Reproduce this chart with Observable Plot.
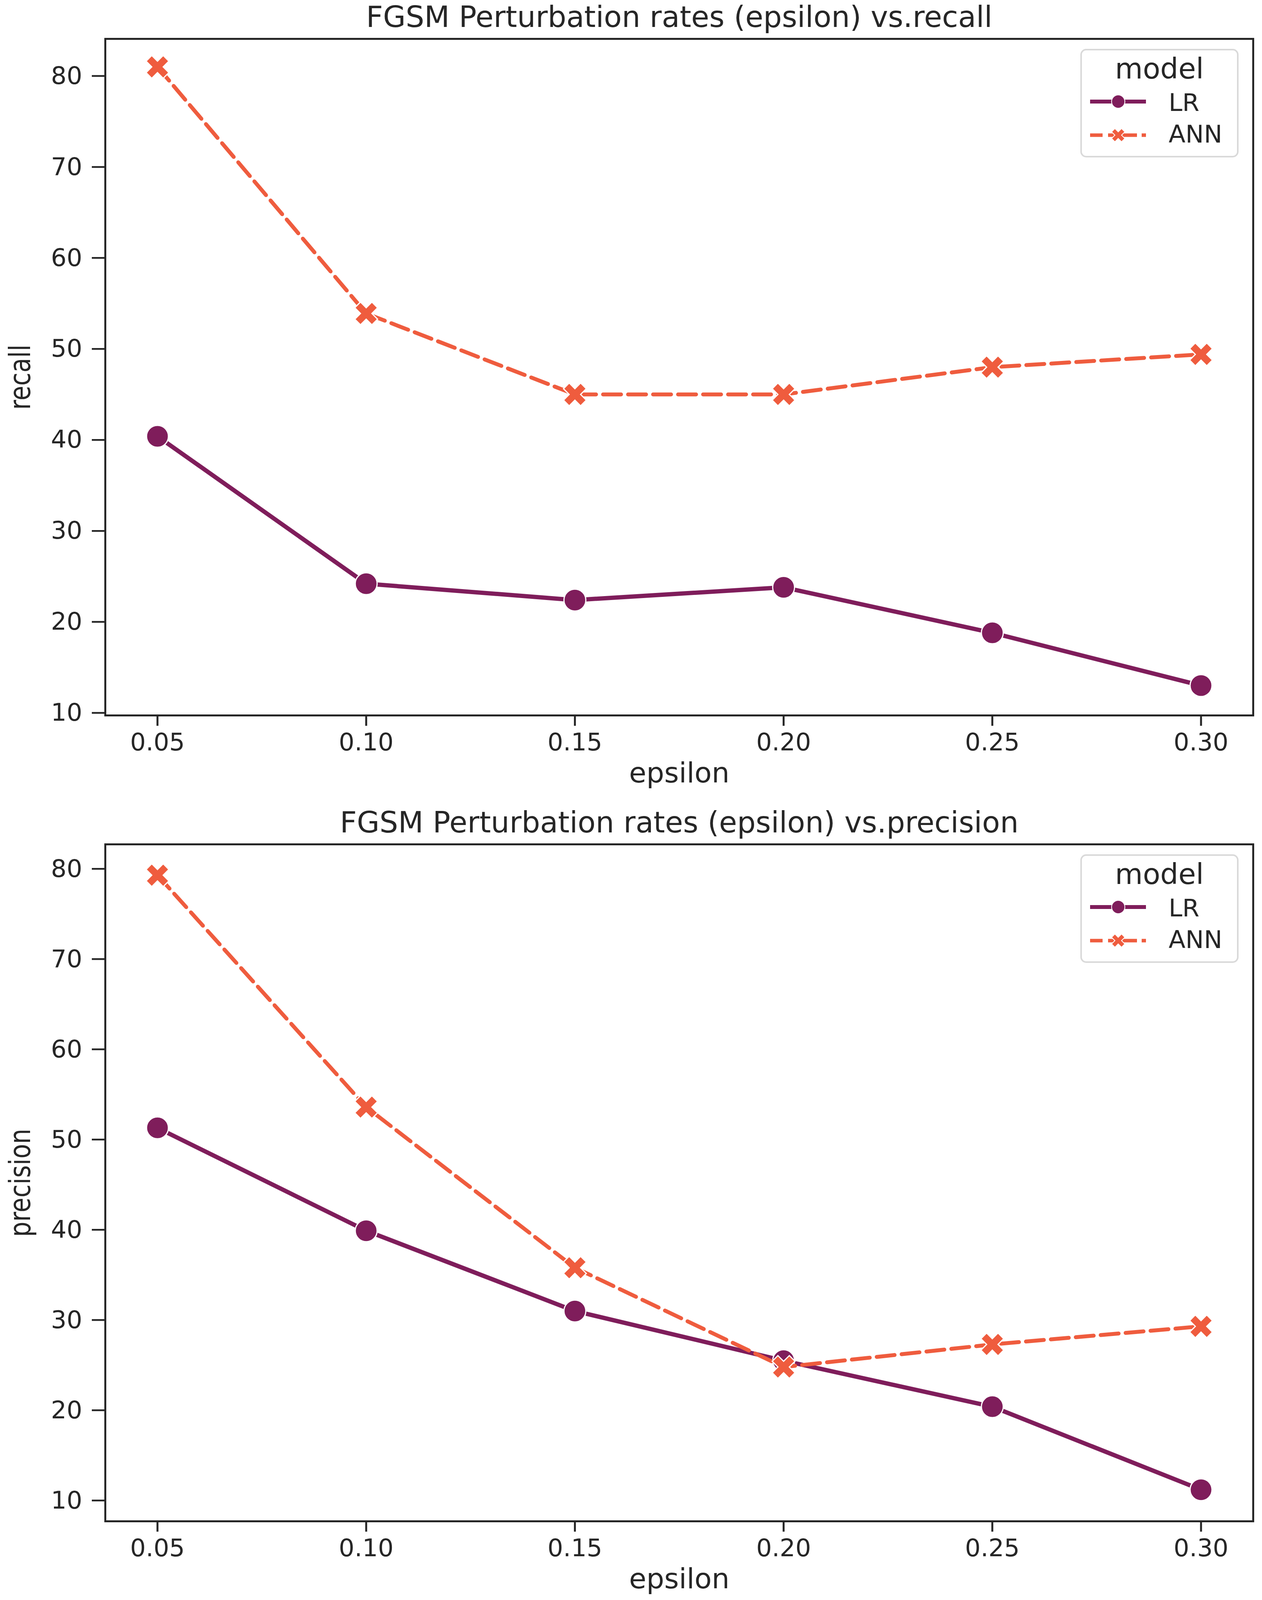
<!DOCTYPE html>
<html><head><meta charset="utf-8">
<script src="https://cdn.jsdelivr.net/npm/d3@7"></script>
<script src="https://cdn.jsdelivr.net/npm/@observablehq/plot@0.6"></script>
<style>
html,body{margin:0;padding:0;background:#fff;overflow:hidden;}
#root{position:relative;width:3230px;height:4096px;}
.chart{position:relative;width:3230px;}
.chart svg{display:block;}
</style></head><body><div id="root"></div>
<script>
// ---- data ----
const epsilon = [0.05, 0.10, 0.15, 0.20, 0.25, 0.30];
const models = ["LR", "ANN"];
const recallLR = [40.4, 24.2, 22.4, 23.8, 18.8, 13.0];
const recallANN = [81.0, 53.9, 45.0, 45.0, 48.0, 49.4];
const precisionLR = [51.3, 39.9, 31.0, 25.5, 20.4, 11.2];
const precisionANN = [79.3, 53.6, 35.8, 24.8, 27.3, 29.3];
const yTicks = [10, 20, 30, 40, 50, 60, 70, 80];
const titles = ["FGSM Perturbation rates (epsilon) vs.recall", "FGSM Perturbation rates (epsilon) vs.precision"];
const yLabels = ["recall", "precision"];
const xLabel = "epsilon";
const legendTitle = "model";
const colors = ["#7f1d5b", "#ef5c3e"];
const ink = "#262626";

// filled "X" marker (matplotlib style)
const filledX = {
  draw(ctx, size) {
    const L = Math.sqrt(size / Math.PI), a = L / 3, k = Math.SQRT1_2;
    const pts = [[-a,-L],[a,-L],[a,-a],[L,-a],[L,a],[a,a],[a,L],[-a,L],[-a,a],[-L,a],[-L,-a],[-a,-a]];
    pts.forEach(([x, y], i) => {
      const X = (x - y) * k, Y = (x + y) * k;
      if (i) ctx.lineTo(X, Y); else ctx.moveTo(X, Y);
    });
    ctx.closePath();
  }
};

// shorten the rotated y label along its length
function squeezeRotated(svg) {
  svg.querySelectorAll("text").forEach(t => {
    const tr = t.getAttribute("transform") || "";
    if (/rotate/.test(tr)) t.setAttribute("transform", tr + " scale(0.83,1)");
  });
}

function makeLegend(top) {
  const svg = d3.create("svg")
    .attr("width", 410).attr("height", 282)
    .style("position", "absolute").style("left", "2765px").style("top", top + "px")
    .style("font-family", "DejaVu Sans");
  svg.append("rect").attr("x", 2).attr("y", 2).attr("width", 401).attr("height", 274).attr("rx", 13)
    .attr("fill", "white").attr("fill-opacity", 0.8).attr("stroke", "#d9d9d9").attr("stroke-width", 4);
  svg.append("text").text(legendTitle).attr("text-anchor", "middle").attr("font-size", 73).attr("fill", ink)
    .attr("x", 202.5).attr("y", 76);
  // LR
  svg.append("line").attr("x1", 25).attr("x2", 168).attr("y1", 135).attr("y2", 135)
    .attr("stroke", colors[0]).attr("stroke-width", 10);
  svg.append("circle").attr("cx", 97).attr("cy", 135).attr("r", 17).attr("fill", colors[0])
    .attr("stroke", "white").attr("stroke-width", 2);
  svg.append("text").text(models[0]).attr("font-size", 63).attr("fill", ink)
    .attr("x", 226).attr("y", 159);
  // ANN
  svg.append("line").attr("x1", 25).attr("x2", 168).attr("y1", 221).attr("y2", 221)
    .attr("stroke", colors[1]).attr("stroke-width", 9).attr("stroke-dasharray", "32,14,74,12,11");
  const p = d3.path(); filledX.draw(p, 18 * 18 * Math.PI);
  svg.append("path").attr("d", p.toString()).attr("transform", "translate(97,221)")
    .attr("fill", colors[1]).attr("stroke", "white").attr("stroke-width", 2);
  svg.append("text").text(models[1]).attr("font-size", 63).attr("fill", ink)
    .attr("x", 226).attr("y", 240);
  return svg.node();
}

function makeChart({title, ylabel, lr, ann, yDomain, height, marginTop, marginBottom}) {
  const lrData = epsilon.map((e, i) => ({epsilon: e, value: lr[i], model: models[0]}));
  const annData = epsilon.map((e, i) => ({epsilon: e, value: ann[i], model: models[1]}));
  const plot = Plot.plot({
    width: 3230, height, marginTop, marginBottom, marginLeft: 269, marginRight: 23,
    style: {fontFamily: "DejaVu Sans", color: ink, background: "white", overflow: "visible"},
    x: {domain: [0.0375, 0.3125]},
    y: {domain: yDomain},
    marks: [
      Plot.axisX(epsilon, {tickSize: 27, tickPadding: 18, fontSize: 63, strokeWidth: 5,
        tickFormat: d3.format(".2f"), label: null}),
      Plot.axisY(yTicks, {tickSize: 34, tickPadding: 25, fontSize: 63, strokeWidth: 4.5,
        tickFormat: d3.format("d"), label: null}),
      Plot.line(lrData, {x: "epsilon", y: "value", stroke: colors[0], strokeWidth: 11}),
      Plot.dot(lrData, {x: "epsilon", y: "value", r: 28, fill: colors[0], stroke: "white", strokeWidth: 3}),
      Plot.line(annData, {x: "epsilon", y: "value", stroke: colors[1], strokeWidth: 10, strokeDasharray: "46,18"}),
      Plot.dot(annData, {x: "epsilon", y: "value", symbol: filledX, r: 31, fill: colors[1], stroke: "white", strokeWidth: 3}),
      Plot.frame({stroke: ink, strokeWidth: 5}),
      Plot.text([title], {text: d => d, frameAnchor: "top", textAnchor: "middle", lineAnchor: "bottom", dy: -31, fontSize: 75, fill: ink}),
      Plot.text([xLabel], {text: d => d, frameAnchor: "bottom", textAnchor: "middle", lineAnchor: "bottom", dy: 171, fontSize: 72, fill: ink}),
      Plot.text([ylabel], {text: d => d, frameAnchor: "left", textAnchor: "middle", rotate: -90, lineAnchor: "middle", dx: -216, fontSize: 74, fill: ink})
    ]
  });
  squeezeRotated(plot);
  const div = document.createElement("div");
  div.className = "chart";
  div.style.height = height + "px";
  div.appendChild(plot);
  div.appendChild(makeLegend(marginTop + 26));
  return div;
}

const root = document.getElementById("root");
root.appendChild(makeChart({title: titles[0], ylabel: yLabels[0], lr: recallLR, ann: recallANN,
  yDomain: [9.72, 84.08], height: 2046, marginTop: 99, marginBottom: 215}));
root.appendChild(makeChart({title: titles[1], ylabel: yLabels[1], lr: precisionLR, ann: precisionANN,
  yDomain: [7.70, 82.72], height: 2050, marginTop: 115, marginBottom: 202}));
</script>
</body></html>
